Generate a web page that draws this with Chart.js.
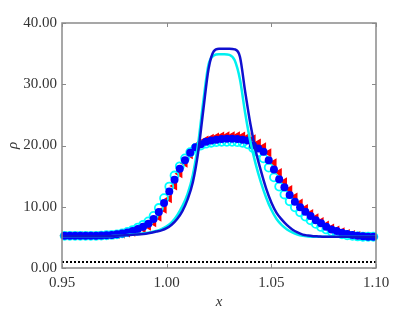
<!DOCTYPE html>
<html lang="en">
<head>
    <meta charset="UTF-8">
    <title>Density profile</title>
    <script src="https://cdn.jsdelivr.net/npm/chart.js"></script>
    <style>
        body { margin: 0; background: #fff; }
    </style>
</head>
<body>
    <canvas id="rhoChart" width="415" height="312"></canvas>

    <script>
        // tick labels
        const xTicks = [0.95, 1.00, 1.05, 1.10];
        const yTicks = [0, 10, 20, 30, 40];

        // markers: cell centres
        const markerX0 = 0.95125;
        const markerDx = 0.0025;
        const redTri = [5.25, 5.25, 5.25, 5.25, 5.25, 5.25, 5.25, 5.3, 5.35, 5.4,
            5.45, 5.55, 5.7, 5.85, 6.1, 6.4, 6.8, 7.4, 8.3, 9.6,
            11.3, 13.4, 15.4, 17.1, 18.5, 19.6, 20.4, 20.9, 21.2, 21.4,
            21.55, 21.6, 21.6, 21.6, 21.55, 21.4, 21.1, 20.4, 19.8, 18.8,
            17.2, 15.6, 14.1, 12.8, 11.6, 10.6, 9.7, 8.9, 8.2, 7.6,
            7.0, 6.55, 6.2, 5.9, 5.65, 5.45, 5.3, 5.2, 5.15, 5.1];
        const blueDot = [5.25, 5.25, 5.25, 5.25, 5.25, 5.25, 5.25, 5.3, 5.35, 5.4,
            5.5, 5.65, 5.8, 6.04, 6.37, 6.75, 7.24, 8.0, 9.14, 10.6,
            12.5, 14.4, 16.2, 17.6, 18.8, 19.7, 20.2, 20.6, 20.8, 20.95,
            21.05, 21.1, 21.1, 21.05, 20.95, 20.8, 20.0, 19.5, 19.0, 17.6,
            16.1, 14.5, 13.2, 11.9, 10.8, 9.9, 9.2, 8.5, 7.8, 7.3,
            6.75, 6.3, 6.04, 5.77, 5.55, 5.39, 5.27, 5.17, 5.1, 5.1];
        const cyanRing = [5.25, 5.25, 5.25, 5.25, 5.25, 5.25, 5.25, 5.3, 5.35, 5.4,
            5.5, 5.65, 5.9, 6.2, 6.6, 7.05, 7.6, 8.5, 9.8, 11.4,
            13.3, 15.1, 16.6, 17.9, 18.9, 19.6, 20.0, 20.3, 20.45, 20.55,
            20.6, 20.6, 20.6, 20.55, 20.45, 20.2, 19.6, 18.9, 17.9, 16.4,
            14.8, 13.3, 12.0, 10.9, 9.9, 9.1, 8.4, 7.8, 7.2, 6.7,
            6.3, 5.95, 5.7, 5.5, 5.35, 5.25, 5.15, 5.1, 5.1, 5.1];

        // solid lines: nodes
        const lineX0 = 0.95;
        const lineDx = 0.0025;
        const blueLine = [5.2, 5.2, 5.2, 5.2, 5.2, 5.2, 5.2, 5.2, 5.2, 5.2,
            5.25, 5.3, 5.35, 5.4, 5.45, 5.5, 5.6, 5.75, 5.95, 6.15,
            6.5, 7.1, 8.0, 9.3, 11.2, 14.0, 18.8, 25.8, 32.5, 35.4,
            35.8, 35.8, 35.8, 35.7, 34.5, 28.8, 23.5, 19.2, 15.9, 13.0,
            10.7, 9.0, 7.9, 7.0, 6.3, 5.8, 5.45, 5.3, 5.2, 5.15,
            5.1, 5.1, 5.1, 5.1, 5.1, 5.1, 5.1, 5.1, 5.1, 5.1, 5.1];
        const cyanLine = [5.2, 5.2, 5.2, 5.2, 5.2, 5.2, 5.2, 5.2, 5.2, 5.2,
            5.25, 5.3, 5.35, 5.45, 5.5, 5.6, 5.7, 5.85, 6.05, 6.35,
            6.8, 7.5, 8.6, 10.1, 12.1, 15.2, 20.2, 27.2, 33.2, 34.7,
            34.9, 34.9, 34.8, 33.9, 30.8, 25.3, 20.6, 17.0, 14.0, 11.5,
            9.5, 8.0, 7.0, 6.3, 5.8, 5.45, 5.25, 5.15, 5.1, 5.1,
            5.1, 5.1, 5.1, 5.1, 5.1, 5.1, 5.1, 5.1, 5.1, 5.1, 5.1];

        const refX = [0.95, 1.10];
        const refY = [1, 1];

        const toPts = (x0, dx, ys) => ys.map((y, i) => ({ x: x0 + dx * i, y: y }));

        const frameColor = '#8a8a8a';
        const textColor = '#333';
        const serif = "'Liberation Serif', 'Times New Roman', serif";

        // box frame with inward ticks on all four sides
        const framePlugin = {
            id: 'frame',
            afterDatasetsDraw(chart) {
                const { ctx, chartArea: a, scales } = chart;
                ctx.save();
                ctx.strokeStyle = frameColor;
                ctx.lineWidth = 1;
                ctx.beginPath();
                xTicks.forEach(v => {
                    const px = Math.round(scales.x.getPixelForValue(v)) + 0.5;
                    ctx.moveTo(px, a.bottom); ctx.lineTo(px, a.bottom - 4);
                    ctx.moveTo(px, a.top); ctx.lineTo(px, a.top + 4);
                });
                yTicks.forEach(v => {
                    const py = Math.round(scales.y.getPixelForValue(v)) + 0.5;
                    ctx.moveTo(a.left, py); ctx.lineTo(a.left + 4, py);
                    ctx.moveTo(a.right, py); ctx.lineTo(a.right - 4, py);
                });
                ctx.stroke();
                ctx.lineWidth = 1.5;
                ctx.strokeRect(a.left, a.top, a.right - a.left, a.bottom - a.top);
                ctx.restore();
            }
        };

        new Chart(document.getElementById('rhoChart'), {
            type: 'scatter',
            data: {
                datasets: [
                    { data: toPts(lineX0, lineDx, blueLine), showLine: true, borderColor: '#1010d0', borderWidth: 2.5,
                      pointRadius: 0, cubicInterpolationMode: 'monotone', order: 1 },
                    { data: toPts(lineX0, lineDx, cyanLine), showLine: true, borderColor: '#00f0f0', borderWidth: 2.5,
                      pointRadius: 0, cubicInterpolationMode: 'monotone', order: 2 },
                    { data: toPts(markerX0, markerDx, blueDot), pointStyle: 'circle', pointRadius: 4,
                      backgroundColor: '#0000ff', borderColor: '#0000ff', borderWidth: 0, clip: 8, order: 3 },
                    { data: toPts(markerX0, markerDx, cyanRing), pointStyle: 'circle', pointRadius: 4,
                      backgroundColor: 'rgba(0,0,0,0)', borderColor: '#00ffff', borderWidth: 1.8, clip: 8, order: 4 },
                    { data: toPts(markerX0, markerDx, redTri), pointStyle: 'triangle', pointRotation: -90, pointRadius: 5.2,
                      backgroundColor: '#ff0000', borderColor: '#ff0000', borderWidth: 0, clip: 8, order: 5 },
                    { data: refX.map((x, i) => ({ x: x, y: refY[i] })), showLine: true, borderColor: '#000',
                      borderWidth: 2, borderDash: [2, 2], pointRadius: 0, order: 0 }
                ]
            },
            options: {
                responsive: false,
                animation: false,
                layout: { padding: { left: 0, right: 39, top: 23, bottom: 0 } },
                plugins: { legend: { display: false }, tooltip: { enabled: false } },
                scales: {
                    x: {
                        type: 'linear', min: 0.95, max: 1.10,
                        afterBuildTicks: s => { s.ticks = xTicks.map(v => ({ value: v })); },
                        afterFit: s => { s.height = 44; },
                        grid: { display: false, drawTicks: false },
                        border: { display: false },
                        ticks: { padding: 6, color: textColor, font: { family: serif, size: 15 },
                                 callback: v => Number(v).toFixed(2), maxRotation: 0 },
                        title: { display: true, text: 'x', color: textColor, padding: { top: 0, bottom: 1 },
                                 font: { family: serif, size: 15, style: 'italic' } }
                    },
                    y: {
                        min: 0, max: 40,
                        afterBuildTicks: s => { s.ticks = yTicks.map(v => ({ value: v })); },
                        afterFit: s => { s.width = 62; },
                        grid: { display: false, drawTicks: false },
                        border: { display: false },
                        ticks: { padding: 5, color: textColor, font: { family: serif, size: 15 },
                                 callback: v => Number(v).toFixed(2) },
                        title: { display: true, text: 'ρ', color: textColor, padding: { top: 4, bottom: 0 },
                                 font: { family: serif, size: 15, style: 'italic' } }
                    }
                }
            },
            plugins: [framePlugin]
        });
    </script>
</body>
</html>
